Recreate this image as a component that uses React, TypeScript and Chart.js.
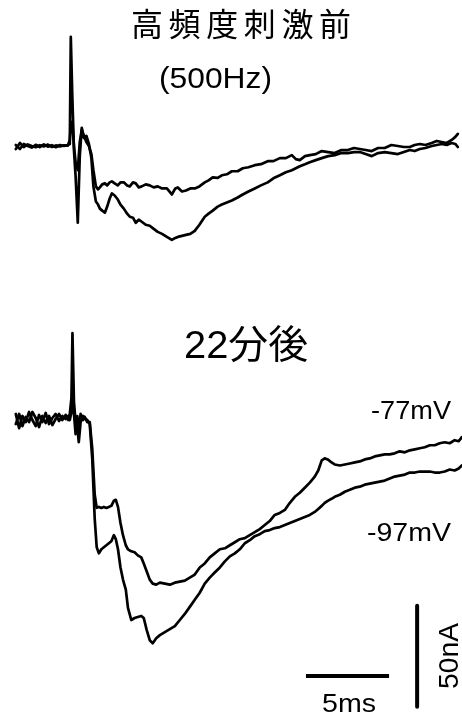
import React, { useEffect, useRef } from "react";
import { Chart, registerables } from "chart.js";

Chart.register(...registerables);

// ---------- DATA ----------
const titleTop = "高頻度刺激前";
const subtitleTop = "(500Hz)";
const titleBottom = "22分後";
const voltageLabels = ["-77mV", "-97mV"];
const scaleBarTime = 5; // ms
const scaleBarCurrent = 50; // nA
const scaleBarLabels = ["5ms", "50nA"];

// Top panel (before high-frequency stimulation), time in ms, current in nA
const topTimes = [
  -3.25, -3.0, -2.77, -2.53, -2.29, -2.05, -1.81, -1.56, -1.32, -1.08, -0.84, -0.6, -0.36, -0.12,
  0.0, 0.06, 0.15, 0.25, 0.35, 0.48, 0.6, 0.72, 0.85, 1.0, 1.15, 1.3,
  1.42, 1.57, 1.7, 1.81, 1.95, 2.11, 2.25, 2.4, 2.53, 2.7,
  2.89, 3.05, 3.25, 3.45, 3.61, 3.8, 3.97, 4.15, 4.33, 4.57,
  4.81, 5.05, 5.29, 5.55, 5.84, 6.14, 6.35, 6.5, 6.75, 6.99,
  7.25, 7.52, 7.8, 8.12, 8.35, 8.6, 8.9, 9.15, 9.45, 9.75,
  10.1, 10.41, 10.75, 11.13, 11.5, 11.91, 12.25, 12.64, 13.0, 13.36,
  13.6, 13.84, 14.15, 14.44, 14.8, 15.16, 15.55, 15.94, 16.35, 16.73,
  17.1, 17.45, 17.8, 18.17, 18.55, 18.95, 19.35, 19.74, 20.1, 20.46,
  20.75, 21.06, 21.4, 21.78, 22.08, 22.38, 22.68, 22.98, 23.2, 23.35,
];
const topDeep = [
  0.5, -1.5, 1, 0, -0.8, 0.6, -0.5, 0.8, -0.3, 0.4, -0.6, 0.5, 0, 0.5,
  1, 54, 25, -2, -15, -38, -5, 9, 4, 5, 1, -6,
  -20, -27.5, -29, -31, -32, -33, -30, -26, -23.5, -24.5,
  -26.5, -29, -31, -33.5, -35, -35.5, -38, -36.5, -37.5, -39,
  -39.5, -41, -42.5, -43.5, -45, -46.5, -45.5, -45, -44.5, -44,
  -43.5, -42, -39, -35, -33.5, -32, -30, -29, -28, -27,
  -25.5, -24, -22.5, -21, -19.5, -18, -16, -14.5, -13, -12,
  -11, -10, -9, -8, -7, -6, -5, -4.5, -3.5, -3.5,
  -3, -3, -4, -5, -3.5, -3, -3.5, -4, -3, -2,
  -2.5, -1.5, -1, 0, 0.5, 1, 0.5, 1.5, 1, -0.5,
];
const topShallow = [
  -1.5, 1.5, -0.5, 0.8, 0, -0.6, 0.4, -0.2, 0.7, -0.5, 0.3, -0.2, 0.3, 0.2,
  3, 10, 12, 0, -8, -12, 2, 8, 5, 2, 0, -4,
  -12, -20, -21.5, -20.5, -19, -18.5, -19.5, -18, -17.5, -18.5,
  -19.5, -18, -18, -19.5, -20, -18, -18.5, -20.5, -20, -19,
  -19.5, -20.5, -20, -21, -21, -24, -21, -20.5, -22.5, -22,
  -21, -21, -20, -18, -17, -15.5, -15.8, -14.5, -14, -12.5,
  -12.5, -11, -10.5, -9.5, -9, -7.5, -7.5, -6, -6, -4.5,
  -6.5, -7, -5, -4.5, -4, -2.5, -3, -3.5, -2, -2,
  -1, -1.5, -2, -2.5, -1, -1, 0.5, 0, -0.5, -0.5,
  0.5, 1, 0.5, 1.5, 2.5, 2, 1.5, 3, 4.5, 6,
];

// Bottom panel (22 min after), time in ms, current in nA
const bottomTimes = [
  -3.25, -3.05, -2.85, -2.65, -2.45, -2.25, -2.05, -1.85, -1.65, -1.45, -1.25, -1.05, -0.85, -0.65, -0.45, -0.25, -0.1,
  0.0, 0.1, 0.16, 0.25, 0.35, 0.45, 0.54, 0.65, 0.8, 0.9, 1.05,
  1.2, 1.35, 1.5, 1.62, 1.75, 1.9, 2.05, 2.2, 2.35, 2.5,
  2.65, 2.77, 2.9, 3.05, 3.2, 3.37, 3.5, 3.7, 3.9, 4.09,
  4.3, 4.45, 4.63, 4.81, 4.99, 5.2, 5.42, 5.72, 6.02, 6.32,
  6.62, 6.92, 7.22, 7.52, 7.82, 8.12, 8.42, 8.72, 9.03, 9.33,
  9.63, 9.93, 10.23, 10.53, 10.83, 11.13, 11.43, 11.73, 12.03, 12.33,
  12.64, 12.94, 13.24, 13.54, 13.84, 14.14, 14.44, 14.74, 14.95, 15.16,
  15.34, 15.52, 15.75, 15.94, 16.25, 16.55, 16.85, 17.15, 17.45, 17.75,
  18.05, 18.35, 18.65, 18.95, 19.25, 19.55, 19.85, 20.16, 20.46, 20.76,
  21.06, 21.36, 21.66, 21.96, 22.26, 22.56, 22.86, 23.16, 23.4, 23.59,
];
const bottomAt77 = [
  2, -5, 1, -2, 3, -1, -4, 1.5, -2, 2.5, -3, 0, 2, -1.5, 1, -0.5, 1,
  -1, 3, 15, 2, -8, 1, -6, 2, -1, 0.5, -2,
  -2, -15, -38, -44.5, -44, -44.5, -44, -44.5, -44, -43.5,
  -41, -40.5, -44, -52, -58, -63, -65, -66, -66.5, -68,
  -69, -72, -76, -80, -82, -82.5, -81.5, -82, -82.5, -81.5,
  -81, -80.5, -79, -77.5, -74, -72, -69, -67, -65, -64.5,
  -63, -61.5, -60, -59.5, -58, -56.5, -55, -53, -51, -48,
  -47, -45.5, -42, -39, -37, -34.5, -32, -29, -26, -21,
  -20, -20.5, -22, -23, -23.5, -23, -22.5, -22, -21.5, -20.5,
  -20, -19, -18.5, -18, -18, -17.5, -16.5, -17, -16, -15.5,
  -15, -14.5, -13.5, -13.5, -12.5, -12, -12.5, -11, -11.5, -9.5,
];
const bottomAt97 = [
  -3, 2, -4, 0.5, -2, 3, 0, -4.5, 1, -2.5, 1, -3.5, -0.5, 2, -1, 1.5, -1,
  2, 10, 42, 8, -2, -4, -12, -2, 1, 0, -1,
  -3, -20, -50, -64, -67, -65, -64, -63, -62, -61,
  -58, -60, -65, -74, -80, -85, -94, -100, -99, -98.5,
  -98, -99, -105, -110, -111.5, -109, -107.5, -106, -104.5, -103,
  -100, -97, -93.5, -90, -86.5, -82, -79, -76.5, -74, -71,
  -68.5, -67, -65, -62, -60.5, -58.5, -57.5, -56, -55.5, -54.5,
  -54, -53, -52, -51, -50, -49, -48, -46.5, -45, -43.5,
  -42, -41, -40, -39, -38, -36.5, -35.5, -34.5, -34, -33,
  -32.5, -32, -31.5, -31, -30, -29, -28.5, -28, -27, -27,
  -26.5, -26.5, -26.5, -27, -27, -26.5, -25.5, -26, -25, -23.5,
];

// ---------- LAYOUT (pixels / scale calibration) ----------
const W = 462;
const H = 716;
const X_MIN = -4.2;
const X_MAX = 23.6;
const PX_PER_NA = 2.02;
const TOP_BASE_PX = 146;
const BOT_BASE_PX = 418;

function pts(times: number[], vals: number[]) {
  const n = Math.min(times.length, vals.length);
  const out: { x: number; y: number }[] = [];
  for (let i = 0; i < n; i++) out.push({ x: times[i], y: vals[i] });
  return out;
}

function fitText(
  ctx: CanvasRenderingContext2D,
  text: string,
  font: string,
  x: number,
  y: number,
  width: number,
  opts: { rotate?: boolean; spacing?: boolean } = {}
) {
  ctx.save();
  ctx.font = font;
  ctx.fillStyle = "#000";
  ctx.textAlign = "left";
  ctx.textBaseline = "alphabetic";
  const chars = Array.from(text).length;
  const m = ctx.measureText(text).width;
  let sx = 1;
  if (opts.spacing && "letterSpacing" in ctx && chars > 1) {
    const extra = (width - m) / (chars - 1);
    (ctx as any).letterSpacing = extra.toFixed(2) + "px";
  } else {
    sx = width / m;
  }
  ctx.translate(x, y);
  if (opts.rotate) ctx.rotate(-Math.PI / 2);
  ctx.scale(sx, 1);
  ctx.fillText(text, 0, 0);
  ctx.restore();
}

const textPlugin = {
  id: "figureText",
  afterDraw(chart: any) {
    const ctx = chart.ctx as CanvasRenderingContext2D;
    const cjk = "'Noto Sans CJK JP', 'Noto Sans', sans-serif";
    const latin = "'Liberation Sans', Arial, sans-serif";
    fitText(ctx, titleTop, `32px ${cjk}`, 131, 36, 220, { spacing: true });
    fitText(ctx, subtitleTop, `30px ${latin}`, 159, 88, 113);
    fitText(ctx, titleBottom, `39px 'Liberation Sans', 'Noto Sans CJK JP', sans-serif`, 184, 358, 124);
    fitText(ctx, voltageLabels[0], `25px ${latin}`, 371, 419, 80);
    fitText(ctx, voltageLabels[1], `25px ${latin}`, 367, 541, 84);
    fitText(ctx, scaleBarLabels[0], `25px ${latin}`, 322, 712, 54);
    fitText(ctx, scaleBarLabels[1], `27px ${latin}`, 458, 689, 66, { rotate: true });
  },
};

export default function App() {
  const ref = useRef<HTMLCanvasElement | null>(null);

  useEffect(() => {
    const canvas = ref.current;
    if (!canvas) return;

    const hBarStart = 14.21;
    const hBarY = -127.7;
    const vBarX = 20.9;
    const vBarTop = -93;

    const line = (data: any[], axis: string, width = 2.7) => ({
      data,
      yAxisID: axis,
      borderColor: "#000",
      backgroundColor: "#000",
      borderWidth: width,
      pointRadius: 0,
      tension: 0,
      fill: false,
      borderJoinStyle: "round" as const,
      borderCapStyle: "round" as const,
    });

    const chart = new Chart(canvas, {
      type: "line",
      data: {
        datasets: [
          line(pts(topTimes, topDeep), "yTop"),
          line(pts(topTimes, topShallow), "yTop"),
          line(pts(bottomTimes, bottomAt77), "yBot"),
          line(pts(bottomTimes, bottomAt97), "yBot"),
          {
            ...line(
              [
                { x: hBarStart, y: hBarY },
                { x: hBarStart + scaleBarTime, y: hBarY },
              ],
              "yBot",
              4
            ),
            borderCapStyle: "butt" as const,
          },
          {
            ...line(
              [
                { x: vBarX, y: vBarTop },
                { x: vBarX, y: vBarTop - scaleBarCurrent },
              ],
              "yBot",
              4
            ),
            borderCapStyle: "butt" as const,
          },
        ],
      },
      options: {
        animation: false,
        responsive: false,
        devicePixelRatio: 1,
        layout: { padding: 0 },
        plugins: {
          legend: { display: false },
          tooltip: { enabled: false },
          title: { display: false },
        },
        scales: {
          x: { type: "linear", display: false, min: X_MIN, max: X_MAX },
          yTop: {
            type: "linear",
            display: false,
            min: -(H - TOP_BASE_PX) / PX_PER_NA,
            max: TOP_BASE_PX / PX_PER_NA,
          },
          yBot: {
            type: "linear",
            display: false,
            min: -(H - BOT_BASE_PX) / PX_PER_NA,
            max: BOT_BASE_PX / PX_PER_NA,
          },
        },
      },
      plugins: [textPlugin],
    });

    return () => chart.destroy();
  }, []);

  return (
    <div style={{ position: "fixed", left: 0, top: 0, width: W, height: H, background: "#fff" }}>
      <canvas ref={ref} width={W} height={H} style={{ display: "block", width: W, height: H }} />
    </div>
  );
}
